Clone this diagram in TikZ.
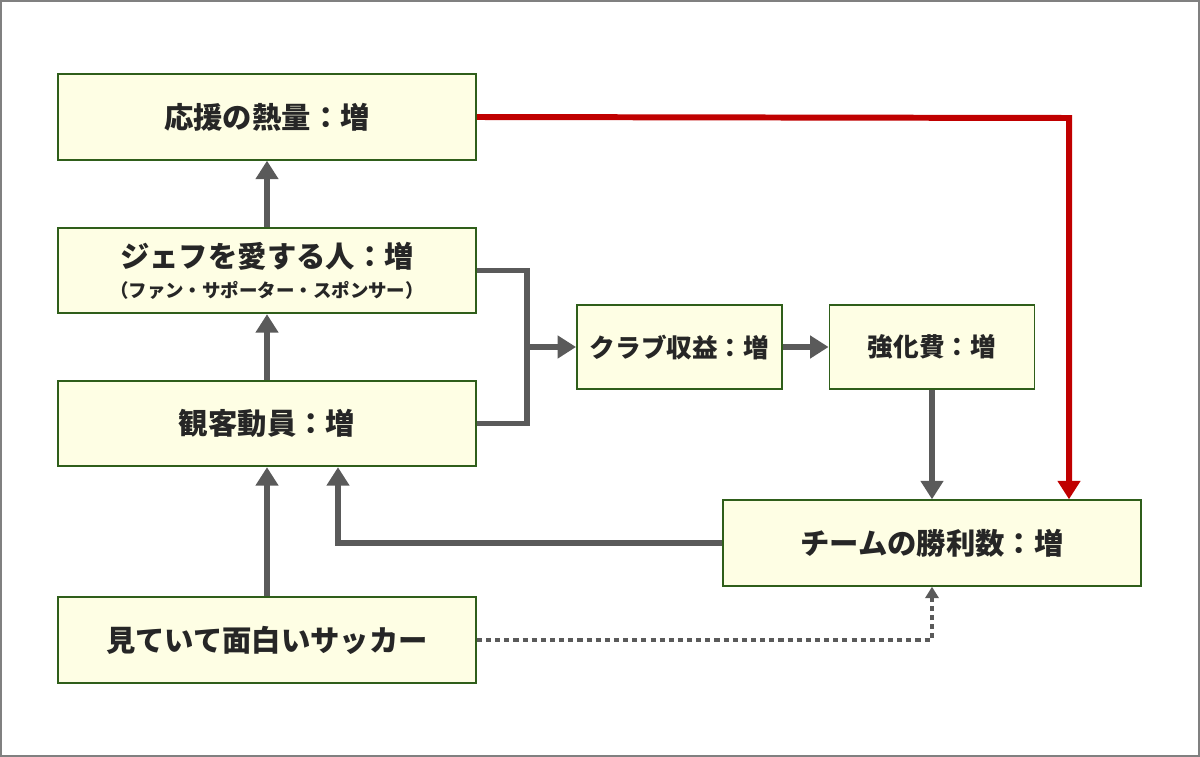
\documentclass[tikz,border=0pt]{standalone}
\usepackage{fontspec}
\setmainfont{Noto Sans CJK JP}
\usepackage{xcolor}
\usepackage{tikz}
\usetikzlibrary{arrows.meta}

\definecolor{boxfill}{HTML}{FEFEE4}
\definecolor{boxline}{HTML}{2F5E1A}
\definecolor{arrowgray}{HTML}{5A5A5A}
\definecolor{heatred}{HTML}{C00000}
\definecolor{textgray}{HTML}{262626}

\tikzset{
	box/.style={draw=boxline,line width=1.1pt,fill=boxfill,text=textgray,
		font=\bfseries\fontsize{16.7}{19}\selectfont,align=center,inner sep=0pt},
	widebox/.style={box,minimum width=8.36cm,minimum height=1.71cm},
	smallbox/.style={box,minimum width=4.1cm,minimum height=1.68cm,
		font=\bfseries\fontsize{14.6}{17}\selectfont},
	flow/.style={draw=arrowgray,line width=3.4pt,-{Triangle[width=12.5pt,length=10.5pt]}},
	heat/.style={flow,draw=heatred},
	maybe/.style={draw=arrowgray,line width=2pt,dash pattern=on 2.9pt off 2.3pt,
		-{Triangle[width=7.5pt,length=6.5pt]}}
}

\begin{document}
\begin{tikzpicture}[x=0.02cm,y=-0.02cm]
	\useasboundingbox (0,0) rectangle (1200,757);
	\draw[gray,line width=1.1pt] (1,1) rectangle (1199,756);
	\node[widebox] at (267,117) (1) {応援の熱量：増};
	\node[widebox] at (267,270.5) (2) {ジェフを愛する人：増\\[-2pt]{\fontsize{10.5}{12}\selectfont （ファン・サポーター・スポンサー）}};
	\node[widebox] at (267,423.5) (3) {観客動員：増};
	\node[widebox] at (267,640) (4) {見ていて面白いサッカー};
	\node[smallbox] at (679.5,347) (5) {クラブ収益：増};
	\node[smallbox] at (932,347) (6) {強化費：増};
	\node[widebox] at (932,543) (7) {チームの勝利数：増};
	\coordinate (j) at (527,347);
	\coordinate (k) at (338,543);
	\coordinate (r) at (1069,118);
	\draw [flow] (4.north) -- (3.south);
	\draw [flow] (3.north) -- (2.south);
	\draw [flow] (2.north) -- (1.south);
	\draw [flow,-] (2.east) -| (j);
	\draw [flow,-] (3.east) -| (j);
	\draw [flow] (j) -- (5.west);
	\draw [flow] (5.east) -- (6.west);
	\draw [flow] (6.south) -- (7.north);
	\draw [flow] (7.west) -- (k) -- (k |- 3.south);
	\draw [heat] (1.east) -- (r) -- (r |- 7.north);
	\draw [maybe] (4.east) -| (7.south);
\end{tikzpicture}
\end{document}
